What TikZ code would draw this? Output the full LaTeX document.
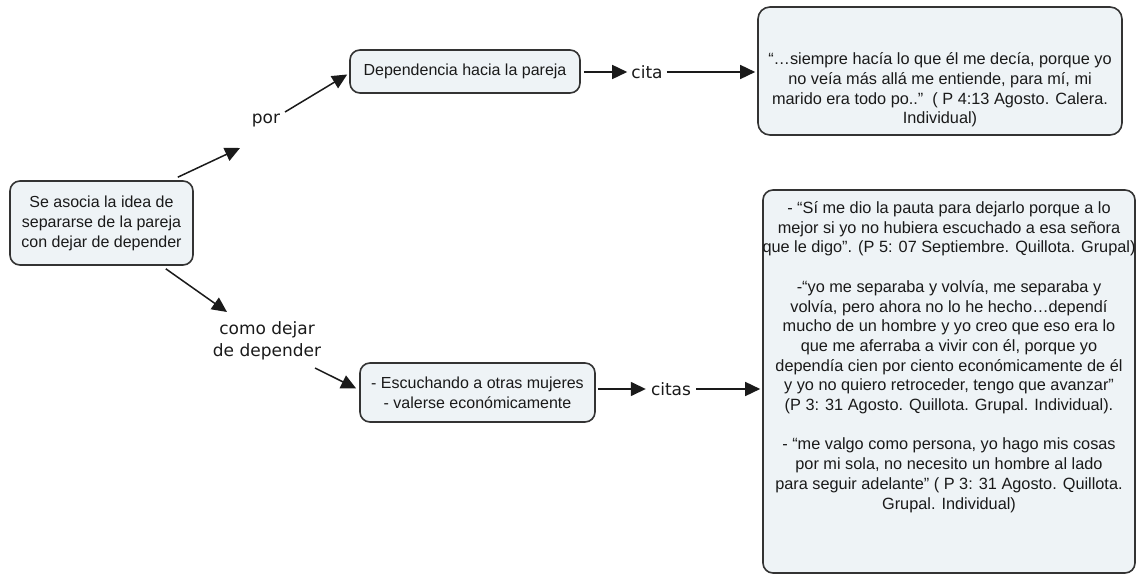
\documentclass[tikz,border=0pt]{standalone}
\usepackage{fontspec}
\setmainfont{Liberation Sans}
\newfontfamily\labfont{DejaVu Sans}
\usetikzlibrary{arrows.meta,calc}
\definecolor{boxfill}{HTML}{EEF3F6}
\definecolor{boxline}{HTML}{333333}
\definecolor{inkc}{HTML}{1A1A1A}
\begin{document}
\begin{tikzpicture}[x=1pt,y=-1pt,
 concept/.style={draw=boxline, line width=1.6pt, fill=boxfill, rounded corners=10pt, inner sep=0pt, align=center, text=inkc, font=\fontsize{16}{20}\selectfont},
 linkw/.style={inner sep=0pt, font=\labfont\fontsize{17}{21.5}\selectfont, text=inkc, align=center},
 arr/.style={draw=inkc, line width=1.5pt, -{Triangle[length=15pt,width=14pt]}},
 quotetext/.style={align=center, inner sep=0pt, text=inkc, font=\fontsize{16.3}{19.7}\selectfont}]
\useasboundingbox (0,0) rectangle (1136,575);
% concepts
\node[concept, minimum width=183pt, minimum height=84pt] (root) at (101.5,223) {Se asocia la idea de\\separarse de la pareja\\con dejar de depender};
\node[concept, minimum width=230pt, minimum height=43pt] (dep) at (465,71.5) {Dependencia hacia la pareja};
\node[concept, minimum width=364pt, minimum height=128pt, rounded corners=12pt] (q1) at (940,71) {};
\node[quotetext] (q1t) at (940,90) {“…siempre hacía lo que él me decía, porque yo\\no veía más allá me entiende, para mí, mi\\marido era todo po.."\ \ ( P 4:13 Agosto. Calera.\\Individual)};
\node[concept, minimum width=235pt, minimum height=59pt] (esc) at (477.5,392.5) {- Escuchando a otras mujeres\\- valerse económicamente};
\node[concept, minimum width=372pt, minimum height=383pt] (q2) at (949,381.5) {};
\node[quotetext] (q2t) at (949,357) {- “Sí me dio la pauta para dejarlo porque a lo\\mejor si yo no hubiera escuchado a esa señora\\que le digo”. (P 5: 07 Septiembre. Quillota. Grupal)\\[19.7pt]-“yo me separaba y volvía, me separaba y\\volvía, pero ahora no lo he hecho…dependí\\mucho de un hombre y yo creo que eso era lo\\que me aferraba a vivir con él, porque yo\\dependía cien por ciento económicamente de él\\y yo no quiero retroceder, tengo que avanzar"\\(P 3: 31 Agosto. Quillota. Grupal. Individual).\\[19.7pt]- “me valgo como persona, yo hago mis cosas\\por mi sola, no necesito un hombre al lado\\para seguir adelante" ( P 3: 31 Agosto. Quillota.\\Grupal. Individual)};
% linking phrases
\node[linkw] (por) at (266,121) {por};
\node[linkw] (como) at (267,341) {como dejar\\de depender};
\node[linkw] (cita) at (647,72) {cita};
\node[linkw] (citas) at (671,389) {citas};
% connectors
\draw[arr] ($(root.north east)+(-16,-3)$) -- ($(por.center)+(-26,27)$);
\draw[arr] ($(por.center)+(19,-9)$) -- ($(dep.west)+(-2,3)$);
\draw[arr] ($(dep.east)+(3,0.5)$) -- ($(cita.west)+(-4,0)$);
\draw[arr] ($(cita.east)+(4,0)$) -- ($(q1.west |- cita.center)+(-2,0)$);
\draw[arr] ($(root.south east)+(-28,3)$) -- ($(como.center)+(-40,-29)$);
\draw[arr] ($(como.center)+(48,27)$) -- ($(esc.west)+(-3,-4)$);
\draw[arr] ($(esc.east)+(2,-3.5)$) -- ($(citas.west)+(-5,0)$);
\draw[arr] ($(citas.east)+(5,0)$) -- ($(q2.west |- citas.center)+(-2,0)$);
\end{tikzpicture}
\end{document}
